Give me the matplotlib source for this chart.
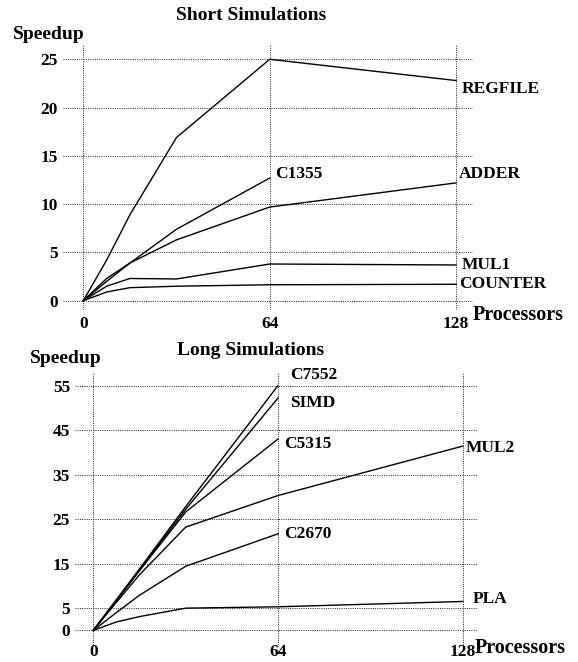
import matplotlib
matplotlib.use("Agg")
import matplotlib.pyplot as plt

# ---------------- data ----------------
procs = [0, 8, 16, 32, 64, 128]
procs64 = [0, 8, 16, 32, 64]

# Short simulations
regfile = [0, 4.2, 8.9, 16.9, 25.0, 22.8]
c1355 = [0, 2.3, 3.9, 7.4, 12.7]
adder = [0, 2.0, 3.9, 6.3, 9.7, 12.2]
mul1 = [0, 1.5, 2.3, 2.25, 3.8, 3.7]
counter = [0, 0.9, 1.35, 1.5, 1.65, 1.7]

# Long simulations
c7552 = [0, 6.9, 13.8, 27.8, 55.0]
simd = [0, 6.8, 13.6, 27.2, 52.2]
c5315 = [0, 6.7, 13.4, 26.6, 43.0]
mul2 = [0, 6.3, 12.5, 23.2, 30.3, 41.4]
c2670 = [0, 4.0, 7.9, 14.4, 21.7]
pla = [0, 1.9, 3.1, 5.0, 5.3, 6.5]

short_yticks = [0, 5, 10, 15, 20, 25]
long_yticks = [0, 5, 15, 25, 35, 45, 55]
xticks = [0, 64, 128]

# ---------------- figure ----------------
W, H = 578, 662
fig = plt.figure(figsize=(W / 100, H / 100), dpi=100)
FONT = "Liberation Serif"
plt.rcParams["font.family"] = [FONT, "DejaVu Serif"]
plt.rcParams["font.weight"] = "bold"


def px_axes(l, t, r, b):
    return fig.add_axes([l / W, 1 - b / H, (r - l) / W, (b - t) / H])


def ftext(x, y, s, size=12.5, ha="left", va="baseline"):
    fig.text(x / W, 1 - y / H, s, fontsize=size, fontweight="bold",
             ha=ha, va=va, family=FONT)


def style(ax, yticks, xpad, ypad, xsize=12.5):
    for sp in ax.spines.values():
        sp.set_visible(False)
    ax.set_xticks(xticks)
    ax.set_yticks(yticks)
    ax.set_xticklabels([str(v) for v in xticks], fontsize=xsize,
                       fontweight="bold", family=FONT)
    ax.set_yticklabels([str(v) for v in yticks], fontsize=12.5,
                       fontweight="bold", family=FONT)
    ax.tick_params(axis="x", length=0, pad=xpad)
    ax.tick_params(axis="y", length=0, pad=ypad)
    ax.grid(True, color="#222222", linewidth=0.7, linestyle=(0, (1, 1.3)))
    ax.set_axisbelow(True)
    ax.patch.set_alpha(0)


LW = 1.0
LC = "black"

# ---- top: Short Simulations ----
ax1 = px_axes(63, 45, 473, 310)
ax1.set_xlim(-6.97, 133.8)
ax1.set_ylim(-0.963, 26.48)
for ys, xs in [(regfile, procs), (c1355, procs64), (adder, procs),
               (mul1, procs), (counter, procs)]:
    ax1.plot(xs, ys, color=LC, lw=LW)
style(ax1, short_yticks, xpad=4.5, ypad=3.6)

ftext(251, 20, "Short Simulations", size=14, ha="center")
ftext(13, 39, "Speedup", size=14)
ftext(473, 320, "Processors", size=14.5)
ftext(462, 93, "REGFILE")
ftext(275, 178, "C1355")
ftext(459, 178, "ADDER")
ftext(462, 269, "MUL1")
ftext(459, 288, "COUNTER")

# ---- bottom: Long Simulations ----
ax2 = px_axes(75, 372, 478.3, 647)
ax2.set_xlim(-6.34, 133.4)
ax2.set_ylim(-3.73, 58.05)
for ys, xs in [(c7552, procs64), (simd, procs64), (c5315, procs64),
               (mul2, procs), (c2670, procs64), (pla, procs)]:
    ax2.plot(xs, ys, color=LC, lw=LW)
style(ax2, long_yticks, xpad=-2.2, ypad=3.6, xsize=12.5)

ftext(250.5, 355, "Long Simulations", size=14, ha="center")
ftext(30, 363, "Speedup", size=14)
ftext(475, 653, "Processors", size=14.5)
ftext(290, 379, "C7552")
ftext(290, 407, "SIMD")
ftext(283.7, 448, "C5315")
ftext(466, 451.5, "MUL2")
ftext(283.7, 538, "C2670")
ftext(473, 603, "PLA")

fig.savefig("out.png", dpi=100)
